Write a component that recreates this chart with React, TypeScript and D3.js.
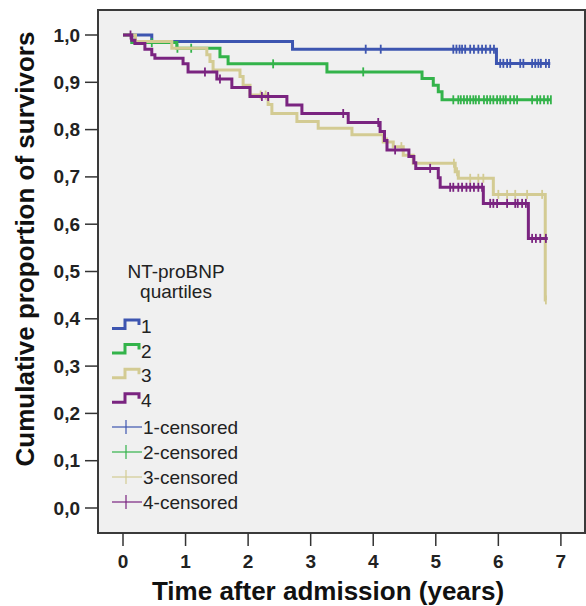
import React from 'react';
import * as d3 from 'd3';

// Kaplan-Meier curves (time in years, cumulative survival)
const groups = ['1', '2', '3', '4'];
const colors = ['#3d55b0', '#33b34a', '#d3cb93', '#7a2480'];

const g1Times = [0.46, 2.71, 5.97];
const g1Surv = [0.986, 0.970, 0.940];
const g1Censored = [3.88, 4.12, 5.28, 5.33, 5.38, 5.42, 5.47, 5.55, 5.61, 5.68, 5.74, 5.80, 5.87, 5.93,
  6.03, 6.08, 6.14, 6.19, 6.35, 6.40, 6.54, 6.59, 6.64, 6.68, 6.76, 6.81];

const g2Times = [0.14, 0.86, 1.55, 1.68, 3.26, 4.78, 4.96, 5.04, 5.10];
const g2Surv = [0.984, 0.972, 0.954, 0.939, 0.922, 0.908, 0.894, 0.880, 0.863];
const g2Censored = [0.46, 0.87, 1.09, 2.40, 3.84, 5.28, 5.36, 5.40, 5.45, 5.50, 5.55, 5.60, 5.64, 5.69,
  5.77, 5.82, 5.87, 5.92, 5.98, 6.03, 6.08, 6.12, 6.19, 6.25, 6.30, 6.54, 6.62, 6.67, 6.73, 6.79, 6.84];

const g3Times = [0.2, 0.78, 1.34, 1.39, 1.44, 1.87, 1.92, 2.03, 2.32, 2.38, 2.78, 3.12, 3.66, 4.16, 4.32,
  4.48, 4.64, 5.31, 5.36, 5.92, 6.75];
const g3Surv = [0.986, 0.972, 0.958, 0.944, 0.926, 0.912, 0.894, 0.873, 0.853, 0.834, 0.817, 0.803, 0.789,
  0.774, 0.764, 0.746, 0.729, 0.711, 0.697, 0.663, 0.44];
const g3Censored = [2.2, 2.28, 4.22, 4.45, 5.29, 5.34, 5.55, 5.68, 5.76, 6.0, 6.14, 6.27, 6.46, 6.70, 6.76];

const g4Times = [0.14, 0.19, 0.35, 0.46, 0.51, 0.96, 1.04, 1.50, 1.74, 2.03, 2.62, 2.86, 3.60, 4.11, 4.18,
  4.22, 4.57, 4.65, 4.68, 5.04, 5.07, 5.76, 6.48];
const g4Surv = [0.989, 0.982, 0.970, 0.958, 0.951, 0.939, 0.922, 0.907, 0.889, 0.870, 0.852, 0.834, 0.815,
  0.796, 0.777, 0.757, 0.743, 0.730, 0.718, 0.698, 0.678, 0.644, 0.570];
const g4Censored = [0.12, 1.31, 1.55, 2.22, 2.32, 3.52, 4.08, 4.35, 4.91, 5.23, 5.28, 5.36, 5.42, 5.49, 5.55,
  5.61, 5.68, 5.74, 5.87, 5.92, 5.98, 6.14, 6.27, 6.31, 6.38, 6.44, 6.54, 6.60, 6.67, 6.76];

const endTimes = [6.83, 6.84, 6.76, 6.79];

const xTicks = [0, 1, 2, 3, 4, 5, 6, 7];
const yTicks = [0, 0.1, 0.2, 0.3, 0.4, 0.5, 0.6, 0.7, 0.8, 0.9, 1.0];
const legendTitle = ['NT-proBNP', 'quartiles'];

const series = [
  { times: g1Times, surv: g1Surv, cens: g1Censored },
  { times: g2Times, surv: g2Surv, cens: g2Censored },
  { times: g3Times, surv: g3Surv, cens: g3Censored },
  { times: g4Times, surv: g4Surv, cens: g4Censored },
];

const W = 586, H = 606;
const frame = { left: 98, top: 10, right: 585, bottom: 533 };

const x = d3.scaleLinear().domain([0, 7]).range([123, 560.9]);
const y = d3.scaleLinear().domain([0, 1]).range([508, 35]);

const survAt = (times: number[], surv: number[], t: number) => {
  let v = 1;
  times.forEach((tt, i) => { if (tt <= t) v = surv[i]; });
  return v;
};

const stepLine = d3.line<[number, number]>()
  .x(d => x(d[0]))
  .y(d => y(d[1]))
  .curve(d3.curveStepAfter);

const fmt = (v: number) => d3.format('.1f')(v).replace('.', ',');

export default function App() {
  const legendRow = (i: number) => 327 + i * 24.6;
  const censRow = (i: number) => 427 + i * 25;

  return (
    <svg width={W} height={H} style={{ position: 'absolute', left: 0, top: 0, background: '#fff' }}
      fontFamily="'Liberation Sans', Arial, sans-serif">
      <rect x={frame.left} y={frame.top} width={frame.right - frame.left} height={frame.bottom - frame.top}
        fill="#f0f0f0" stroke="#3a3a3a" strokeWidth={2} />

      {/* y axis */}
      {yTicks.map(v => (
        <g key={v}>
          <line x1={85} x2={frame.left} y1={y(v)} y2={y(v)} stroke="#333" strokeWidth={1.5} />
          <text x={80} y={y(v) + 6.5} textAnchor="end" fontSize={19} fontWeight="bold" fill="#222">{fmt(v)}</text>
        </g>
      ))}
      <text transform={`translate(34,249) rotate(-90)`} textAnchor="middle" fontSize={26} fontWeight="bold"
        fill="#111">Cumulative proportion of survivors</text>

      {/* x axis */}
      {xTicks.map(t => (
        <g key={t}>
          <line x1={x(t)} x2={x(t)} y1={frame.bottom} y2={546} stroke="#333" strokeWidth={1.5} />
          <text x={x(t)} y={568} textAnchor="middle" fontSize={19} fontWeight="bold" fill="#222">{t}</text>
        </g>
      ))}
      <text x={328} y={600} textAnchor="middle" fontSize={26} fontWeight="bold" fill="#111">
        Time after admission (years)
      </text>

      {/* curves */}
      {series.map((s, i) => {
        const pts: [number, number][] = [[0, 1]];
        s.times.forEach((t, j) => pts.push([t, s.surv[j]]));
        pts.push([endTimes[i], s.surv[s.surv.length - 1]]);
        return (
          <g key={groups[i]}>
            <path d={stepLine(pts) || ''} fill="none" stroke={colors[i]} strokeWidth={3} />
            {s.cens.map((t, j) => {
              const cy = y(survAt(s.times, s.surv, t));
              return <line key={j} x1={x(t)} x2={x(t)} y1={cy - 4.5} y2={cy + 4.5} stroke={colors[i]} strokeWidth={1.8} />;
            })}
          </g>
        );
      })}

      {/* legend */}
      {legendTitle.map((s, i) => (
        <text key={s} x={176} y={278 + i * 20} textAnchor="middle" fontSize={19} fill="#222">{s}</text>
      ))}
      {groups.map((g, i) => {
        const cy = legendRow(i);
        return (
          <g key={g}>
            <path d={`M112,${cy + 1.5}H125V${cy - 7}H139V${cy - 2}`} fill="none" stroke={colors[i]} strokeWidth={3} />
            <text x={141} y={cy + 6} fontSize={19} fill="#222">{g}</text>
          </g>
        );
      })}
      {groups.map((g, i) => {
        const cy = censRow(i);
        return (
          <g key={g + 'c'}>
            <line x1={112} x2={142} y1={cy} y2={cy} stroke={colors[i]} strokeWidth={1.2} />
            <line x1={126} x2={126} y1={cy - 7} y2={cy + 7} stroke={colors[i]} strokeWidth={1.2} />
            <text x={143} y={cy + 7} fontSize={19} fill="#222">{g}-censored</text>
          </g>
        );
      })}
    </svg>
  );
}
